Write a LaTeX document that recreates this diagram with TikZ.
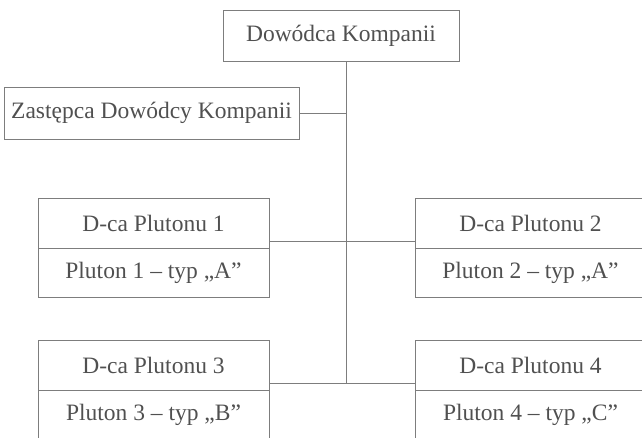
\documentclass[tikz,border=0pt]{standalone}
\usepackage{fontspec}
\setmainfont{Liberation Serif}
\usepackage{tikz}
\usetikzlibrary{positioning}
\definecolor{lineGray}{RGB}{125,125,125}
\definecolor{textGray}{RGB}{80,80,80}
\tikzset{
  orgBox/.style={rectangle,draw=lineGray,line width=0.9pt,text=textGray,
                 minimum width=#1,inner sep=0pt,outer sep=0pt,
                 font=\fontsize{23.5}{28}\selectfont},
  orgLine/.style={lineGray,line width=0.9pt},
}
\begin{document}
\begin{tikzpicture}[x=1pt,y=1pt,
  pHead/.style={orgBox=231pt,minimum height=50pt},
  pBody/.style={orgBox=231pt,minimum height=49pt}]
  \useasboundingbox (0,0) rectangle (642,-437);
  \clip (0,0) rectangle (642,-437);
  \node[orgBox=236pt,minimum height=51pt](dow) at (341,-35.5){Dowódca Kompanii};
  \node[orgBox=295pt,minimum height=52pt](zast) at (151.5,-113){Zastępca Dowódcy Kompanii};
  \node[pHead](p1h) at (153.5,-223){D-ca Plutonu 1};
  \node[pBody,below=0pt of p1h](p1b){Pluton 1 – typ „A”};
  \node[pHead,right=146pt of p1h](p2h){D-ca Plutonu 2};
  \node[pBody,below=0pt of p2h](p2b){Pluton 2 – typ „A”};
  \node[pHead,below=43pt of p1b](p3h){D-ca Plutonu 3};
  \node[pBody,below=0pt of p3h](p3b){Pluton 3 – typ „B”};
  \node[pHead,right=146pt of p3h](p4h){D-ca Plutonu 4};
  \node[pBody,below=0pt of p4h](p4b){Pluton 4 – typ „C”};
  \coordinate(spine) at ([xshift=5pt]dow.south);
  \coordinate(r2) at ([yshift=-18pt]p3h.east);
  \draw[orgLine](spine)--(spine |- r2);
  \draw[orgLine](zast.east)--(zast.east -| spine);
  \foreach \a/\b in {p1h/p2h,p3h/p4h}{\draw[orgLine]([yshift=-18pt]\a.east)--([yshift=-18pt]\b.west);}
\end{tikzpicture}
\end{document}
